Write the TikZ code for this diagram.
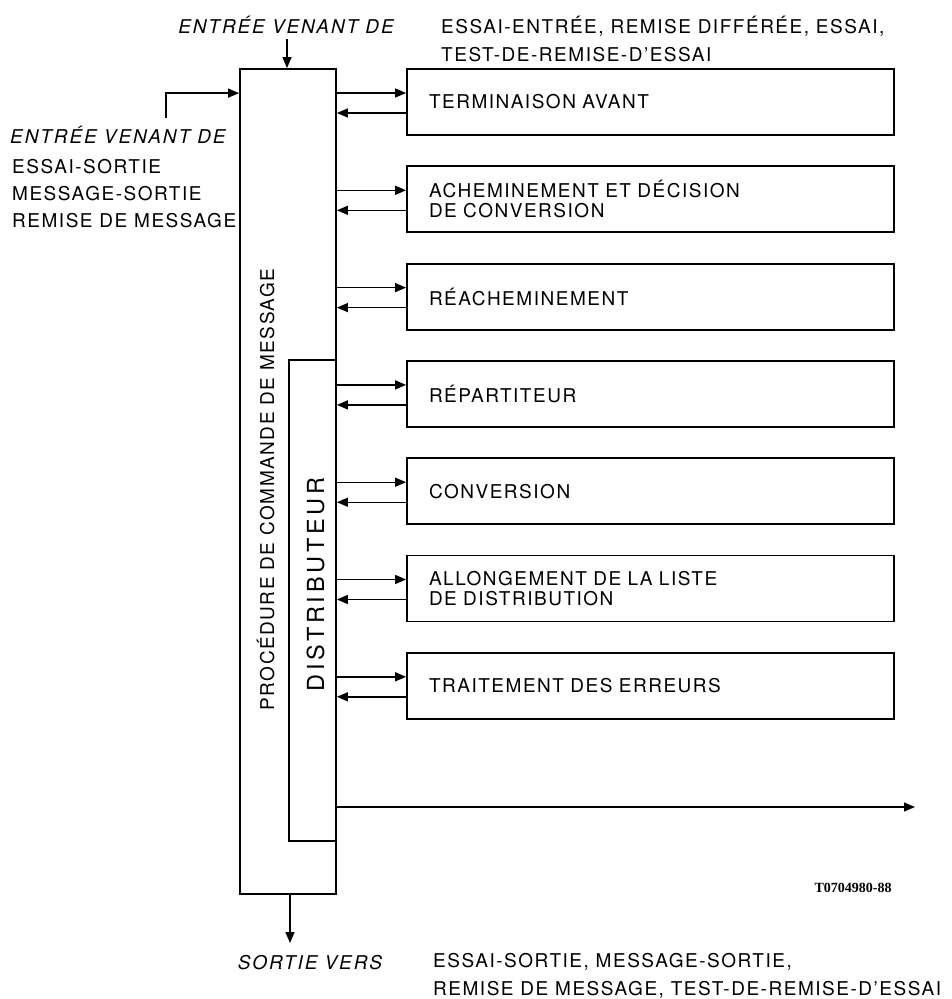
\documentclass[tikz,border=0pt]{standalone}
\usepackage{fontspec}
\setmainfont[LetterSpace=8]{TeX Gyre Heros}
\newfontfamily\codefont{Liberation Serif}
\usetikzlibrary{arrows.meta,positioning}

\begin{document}
\begin{tikzpicture}
    [x=1pt,y=-1pt,
     arr/.style={-{Triangle[length=11pt,width=9pt]},line width=1.4pt},
     blk/.style={draw,line width=1.8pt,inner sep=0pt},
     fn/.style={blk,minimum width=487pt,minimum height=66pt,text width=443pt,inner xsep=22pt,align=left,font=\fontsize{19}{20}\selectfont},
     lbl/.style={inner sep=0pt,align=left,font=\fontsize{19}{27}\selectfont},
     wide/.style={inner sep=0pt,align=left,font=\fontsize{19}{28}\selectfont},
     ital/.style={inner sep=0pt,font=\fontsize{19}{22}\selectfont\itshape\addfontfeature{LetterSpace=10}}]
    \useasboundingbox (0,0) rectangle (952,999);
    % command procedure and distributor
    \node [blk,minimum width=96pt,minimum height=825pt] (pcm) at (288,481.5) {};
    \node [blk,minimum width=47pt,minimum height=481pt] (distr) at (312.5,600.5) {};
    \node [rotate=90,inner sep=0pt,font=\fontsize{19}{19}\selectfont] (pcmlbl) at (265.5,489.5) {PROCÉDURE DE COMMANDE DE MESSAGE};
    \node [rotate=90,inner sep=0pt,font=\fontsize{23.5}{24}\selectfont\addfontfeature{LetterSpace=16}] (distrlbl) at (315.5,584.5) {DISTRIBUTEUR};
    % processes
    \node [fn] (b1) at (650.5,102) {TERMINAISON AVANT};
    \node [fn,below=29.5pt of b1] (b2) {ACHEMINEMENT ET DÉCISION\\DE CONVERSION};
    \node [fn,below=29.5pt of b2] (b3) {RÉACHEMINEMENT};
    \node [fn,below=29.5pt of b3] (b4) {RÉPARTITEUR};
    \node [fn,below=29.5pt of b4] (b5) {CONVERSION};
    \node [fn,below=29.5pt of b5] (b6) {ALLONGEMENT DE LA LISTE\\DE DISTRIBUTION};
    \node [fn,below=29.5pt of b6] (b7) {TRAITEMENT DES ERREURS};
    \draw [arr] ([yshift=9pt]b1.west -| pcm.east) -- ([yshift=9pt]b1.west);
    \draw [arr] ([yshift=-11pt]b1.west) -- ([yshift=-11pt]b1.west -| pcm.east);
    \draw [arr] ([yshift=9pt]b2.west -| pcm.east) -- ([yshift=9pt]b2.west);
    \draw [arr] ([yshift=-11pt]b2.west) -- ([yshift=-11pt]b2.west -| pcm.east);
    \draw [arr] ([yshift=9pt]b3.west -| pcm.east) -- ([yshift=9pt]b3.west);
    \draw [arr] ([yshift=-11pt]b3.west) -- ([yshift=-11pt]b3.west -| pcm.east);
    \draw [arr] ([yshift=9pt]b4.west -| pcm.east) -- ([yshift=9pt]b4.west);
    \draw [arr] ([yshift=-11pt]b4.west) -- ([yshift=-11pt]b4.west -| pcm.east);
    \draw [arr] ([yshift=9pt]b5.west -| pcm.east) -- ([yshift=9pt]b5.west);
    \draw [arr] ([yshift=-11pt]b5.west) -- ([yshift=-11pt]b5.west -| pcm.east);
    \draw [arr] ([yshift=9pt]b6.west -| pcm.east) -- ([yshift=9pt]b6.west);
    \draw [arr] ([yshift=-11pt]b6.west) -- ([yshift=-11pt]b6.west -| pcm.east);
    \draw [arr] ([yshift=9pt]b7.west -| pcm.east) -- ([yshift=9pt]b7.west);
    \draw [arr] ([yshift=-11pt]b7.west) -- ([yshift=-11pt]b7.west -| pcm.east);
    % inputs
    \node [ital] (intop) at (286,25) {ENTRÉE VENANT DE};
    \node [wide,anchor=west] (intopsrc) at (441,39) {ESSAI-ENTRÉE, REMISE DIFFÉRÉE, ESSAI,\\TEST-DE-REMISE-D’ESSAI};
    \draw [arr] (intop.south -| pcm.north) ++(-1,5) coordinate (intopend) -- (intopend |- pcm.north);
    \node [ital,anchor=west] (inleft) at (10,135) {ENTRÉE VENANT DE};
    \node [lbl,anchor=west] (inleftsrc) at (12,194) {ESSAI-SORTIE\\MESSAGE-SORTIE\\REMISE DE MESSAGE};
    \coordinate (instart) at (166,118);
    \draw [arr] (instart) |- ([yshift=-25pt]pcm.north west);
    % outputs
    \coordinate (outright) at (915,807);
    \draw [arr] (pcm.east |- outright) -- (outright);
    \coordinate (outend) at (290,943);
    \draw [arr] (outend |- pcm.south) -- (outend);
    \node [ital] (outlbl) at (310,963) {SORTIE VERS};
    \node [wide,anchor=west] (outdst) at (433,976) {ESSAI-SORTIE, MESSAGE-SORTIE,\\REMISE DE MESSAGE, TEST-DE-REMISE-D’ESSAI};
    \node [inner sep=0pt,font=\codefont\bfseries\fontsize{14}{14}\selectfont] (ref) at (853,888) {T0704980-88};
\end{tikzpicture}
\end{document}
